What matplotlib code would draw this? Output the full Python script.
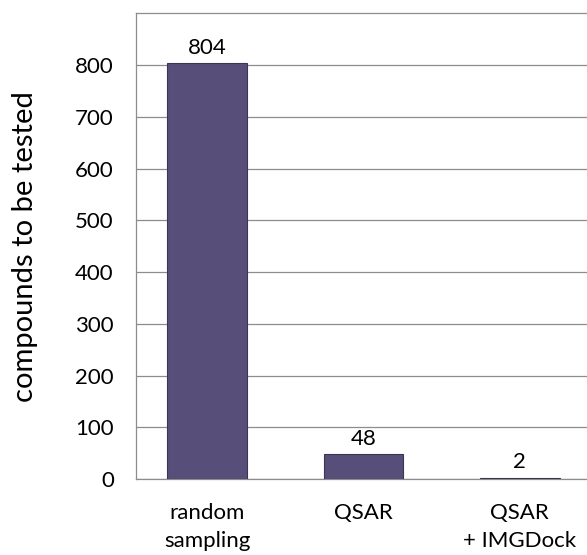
import matplotlib
matplotlib.use("Agg")
import matplotlib.pyplot as plt

# Number of compounds that need experimental testing per screening strategy
categories = ["random\nsampling", "QSAR", "QSAR\n+ IMGDock"]
counts = [804, 48, 2]
yticks = [0, 100, 200, 300, 400, 500, 600, 700, 800]

plt.rcParams["font.family"] = ["Lato", "DejaVu Sans"]

fig = plt.figure(figsize=(5.87, 5.55), dpi=100)
ax = fig.add_axes([0.2317, 0.137, 0.7683, 0.8387])

x = list(range(len(categories)))
bars = ax.bar(x, counts, width=0.51, color="#574f7a", edgecolor="#3b3552",
              linewidth=0.8, zorder=3)

for rect, val in zip(bars, counts):
    ax.annotate(str(val), xy=(rect.get_x() + rect.get_width() / 2, val),
                xytext=(0, 4), textcoords="offset points",
                ha="center", va="bottom", fontsize=16, color="black")

ax.set_xlim(-0.454, 2.43)
ax.set_ylim(0, 900)
ax.set_yticks(yticks)
ax.set_yticklabels([str(t) for t in yticks], fontsize=16)
ax.set_xticks(x)
ax.set_xticklabels(categories, fontsize=16, linespacing=1.5)
ax.tick_params(axis="y", length=0, pad=16)
ax.tick_params(axis="x", length=0, pad=17)

ax.yaxis.grid(True, color="#8c8c8c", linewidth=0.9, zorder=0)
ax.set_axisbelow(True)
for side in ("left", "bottom", "top"):
    ax.spines[side].set_color("#8c8c8c")
    ax.spines[side].set_linewidth(0.9)
ax.spines["right"].set_visible(False)

fig.text(25 / 587, 0.137 + 0.8387 / 2, "compounds to be tested", fontsize=21,
         rotation=90, ha="center", va="center")

fig.savefig("out.png", dpi=100)
